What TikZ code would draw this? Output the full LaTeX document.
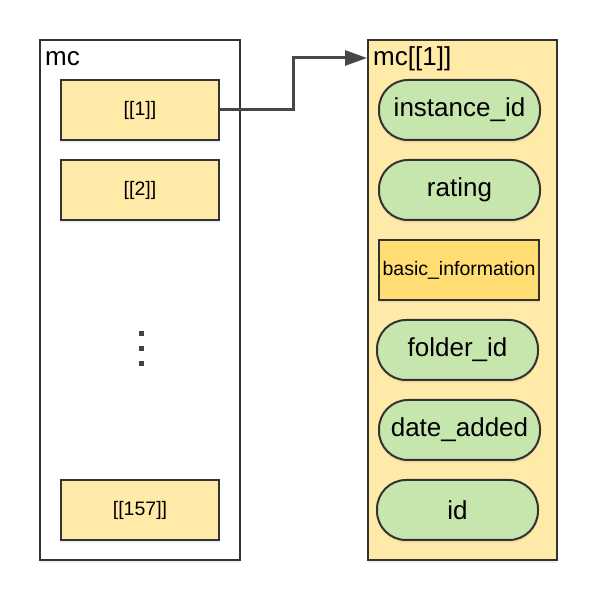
\documentclass[tikz,border=0pt]{standalone}
\usepackage{fontspec}
\setmainfont{Liberation Sans}
\usepackage{tikz}
\usetikzlibrary{arrows.meta,shadows}

\definecolor{lineclr}{HTML}{333333}
\definecolor{paleyellow}{HTML}{FFEAA7}
\definecolor{darkyellow}{HTML}{FFDD73}
\definecolor{palegreen}{HTML}{C7E6AD}
\definecolor{arrowclr}{HTML}{474747}
\definecolor{dotclr}{HTML}{3A4550}

\begin{document}
\begin{tikzpicture}[x=1pt, y=1pt,
    every node/.style={font=\fontsize{26}{30}\selectfont},
    frame node/.style={rectangle, draw=lineclr, line width=2pt, minimum height=520pt,
                       drop shadow={opacity=0.12, shadow xshift=0pt, shadow yshift=-3pt}},
    elem node/.style={rectangle, draw=lineclr, line width=2pt, fill=paleyellow,
                      minimum width=158pt, minimum height=60pt, font=\fontsize{19.5}{22}\selectfont,
                      drop shadow={opacity=0.12, shadow xshift=0pt, shadow yshift=-3pt}},
    field node/.style={rectangle, rounded corners=29pt, draw=lineclr, line width=2pt, fill=palegreen,
                       minimum width=161pt, minimum height=60pt, inner sep=0pt,
                       drop shadow={opacity=0.12, shadow xshift=0pt, shadow yshift=-3pt}},
    dot node/.style={rectangle, fill=dotclr, minimum size=5pt, inner sep=0pt}]

  \useasboundingbox (0,0) rectangle (597,600);

  % containers
  \node[frame node, fill=white, minimum width=200pt] (mc) at (140,300) {};
  \node[frame node, fill=paleyellow, minimum width=189pt] (sub) at (462.5,300) {};
  \node[anchor=base west, inner sep=0pt] (mclab) at (45,534) {mc};
  \node[anchor=base west, inner sep=0pt] (sublab) at (373,534) {mc[[1]]};

  % list elements
  \node[elem node] (e1) at (140,490) {[[1]]};
  \node[elem node] (e2) at (140,410) {[[2]]};
  \node[dot node] (d1) at (141,266) {};
  \node[dot node] (d2) at (141,251) {};
  \node[dot node] (d3) at (141,236) {};
  \node[elem node] (e157) at (140,90) {[[157]]};

  % fields of mc[[1]]
  \node[field node] (f1) at (459.5,490) {instance\_id};
  \node[field node] (f2) at (459.5,410) {rating};
  \node[elem node, fill=darkyellow] (f3) at (459,330) {basic\_information};
  \node[field node] (f4) at (457.5,250) {folder\_id};
  \node[field node] (f5) at (459.5,170) {date\_added};
  \node[field node] (f6) at (457.5,90) {id};

  \coordinate (in) at (sub.north west |- 0,542);
  \draw[arrowclr, line width=3pt, -{Triangle[length=22pt,width=15pt]}]
    (e1.east) -- (293,490) |- (in);
\end{tikzpicture}
\end{document}
